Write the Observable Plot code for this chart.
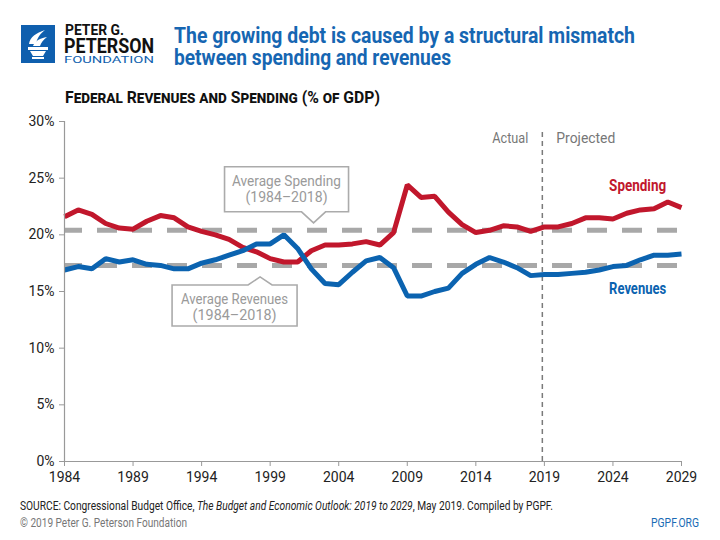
<!DOCTYPE html>
<html>
<head>
<meta charset="utf-8">
<script src="https://cdn.jsdelivr.net/npm/d3@7"></script>
<script src="https://cdn.jsdelivr.net/npm/@observablehq/plot@0.6"></script>
<style>
  html, body { margin: 0; padding: 0; background: #fff; }
  body { width: 720px; height: 540px; position: relative; overflow: hidden; font-family: Roboto, sans-serif; }
  #header { position: absolute; left: 0; top: 0; }
  #chart { position: absolute; left: 0; top: 110px; }
  #footer { position: absolute; left: 0; top: 490px; }
</style>
</head>
<body>
<svg id="header" width="720" height="110" font-family="Roboto, sans-serif">
  <g transform="translate(21,25)">
    <rect x="0" y="0" width="34" height="38" fill="#0f5fae"/>
    <path d="M8 19 C9 12 15 8 24 5 C19 9 16 13 15 19 Z" fill="#fff"/>
    <path d="M12 21 C14 16 19 13 26 12 C22 15 20 18 19 21 Z" fill="#fff"/>
    <rect x="7" y="22" width="20" height="3" fill="#fff"/>
    <path d="M9 26 L25 26 L22 31 L12 31 Z" fill="#fff"/>
    <rect x="11" y="32" width="12" height="2" fill="#fff"/>
  </g>
  <text x="65" y="35" font-size="14" font-weight="bold" fill="#111" textLength="59" lengthAdjust="spacingAndGlyphs">PETER G.</text>
  <text x="64" y="53" font-size="21" font-weight="bold" fill="#111" textLength="90" lengthAdjust="spacingAndGlyphs">PETERSON</text>
  <text x="64" y="63" font-size="8.5" fill="#0f5fae" textLength="90" lengthAdjust="spacingAndGlyphs">FOUNDATION</text>
  <text x="174" y="43" font-size="22" font-weight="bold" fill="#1666b2" textLength="461" lengthAdjust="spacingAndGlyphs">The growing debt is caused by a structural mismatch</text>
  <text x="174" y="65" font-size="22" font-weight="bold" fill="#1666b2" textLength="277" lengthAdjust="spacingAndGlyphs">between spending and revenues</text>
  <text x="65" y="103" font-size="17" font-weight="bold" fill="#111" font-variant="small-caps" textLength="315" lengthAdjust="spacingAndGlyphs">Federal Revenues and Spending (% of GDP)</text>
</svg>
<div id="chart"></div>
<svg id="footer" width="720" height="50" font-family="Roboto, sans-serif">
  <text x="20" y="20" font-size="12" fill="#222" textLength="533" lengthAdjust="spacingAndGlyphs">SOURCE: Congressional Budget Office, <tspan font-style="italic">The Budget and Economic Outlook: 2019 to 2029</tspan>, May 2019. Compiled by PGPF.</text>
  <text x="20" y="37" font-size="12" fill="#777" textLength="167" lengthAdjust="spacingAndGlyphs">© 2019 Peter G. Peterson Foundation</text>
  <text x="651" y="37" font-size="12" fill="#1a6bb5" textLength="48" lengthAdjust="spacingAndGlyphs">PGPF.ORG</text>
</svg>
<script>
// ---- data ----
const years = d3.range(1984, 2030);
const revenues = [16.9,17.2,17.0,17.9,17.6,17.8,17.4,17.3,17.0,17.0,17.5,17.8,18.2,18.6,19.2,19.2,20.0,18.8,17.0,15.7,
                  15.6,16.7,17.7,18.0,17.1,14.6,14.6,15.0,15.3,16.6,17.4,18.0,17.6,17.1,16.4,16.5,16.5,16.6,16.7,16.9,
                  17.2,17.3,17.8,18.2,18.2,18.3];
const spending = [21.6,22.2,21.8,21.0,20.6,20.5,21.2,21.7,21.5,20.7,20.3,20.0,19.6,18.9,18.5,17.9,17.6,17.6,18.6,19.1,
                  19.1,19.2,19.4,19.1,20.2,24.4,23.3,23.4,22.0,20.9,20.2,20.4,20.8,20.7,20.3,20.7,20.7,21.0,21.5,21.5,
                  21.4,21.9,22.2,22.3,22.9,22.4];
const avgSpending = 20.4;
const avgRevenues = 17.3;
const xTicks = [1984,1989,1994,1999,2004,2009,2014,2019,2024,2029];
const yTicks = [0,5,10,15,20,25,30];
const projectionStart = 2018.85;
const seriesNames = ["Spending", "Revenues"];
const seriesLabelYears = [2025.8, 2025.8];
const seriesLabelValues = [24.35, 15.25];
const calloutText = [["Average Spending", "(1984–2018)"], ["Average Revenues", "(1984–2018)"]];
const calloutYears = [2002.2, 1998.3];
const calloutValues = [avgSpending, avgRevenues];

const RED = "#c1172c", BLUE = "#0b63b0", GRID = "#a8a8a8";
const FONT = "Roboto, sans-serif";

const rows = [];
years.forEach((yr, i) => {
  rows.push({year: yr, value: spending[i], series: "Spending"});
  rows.push({year: yr, value: revenues[i], series: "Revenues"});
});
const labels = seriesNames.map((n, i) => ({name: n, year: seriesLabelYears[i], value: seriesLabelValues[i]}));
const callouts = calloutText.map((t, i) => ({lines: t, year: calloutYears[i], value: calloutValues[i], above: i === 0}));

// custom callout box mark, anchored at data coordinates
function calloutMark(data) {
  return (index, scales) => {
    const g = d3.create("svg:g");
    for (const c of data) {
      const px = scales.x(c.year), ly = scales.y(c.value);
      let apex, edge, far, left, right, widths;
      if (c.above) { apex = ly - 7; edge = ly - 18; far = ly - 63; left = px - 89; right = px + 35; widths = [109, 82]; }
      else { apex = ly + 12; edge = ly + 20; far = ly + 61; left = px - 88; right = px + 37; widths = [107, 84]; }
      const hw = 12;
      const d = `M${left},${edge} L${px-hw},${edge} L${px},${apex} L${px+hw},${edge} L${right},${edge} L${right},${far} L${left},${far} Z`;
      g.append("path").attr("d", d).attr("fill", "#fff").attr("stroke", "#ababab").attr("stroke-width", 1.6);
      const top = Math.min(edge, far), cx = (left + right) / 2;
      c.lines.forEach((ln, k) => {
        g.append("text").attr("x", cx).attr("y", top + 19 + k * 16)
          .attr("text-anchor", "middle").attr("font-size", 15).attr("fill", "#9a9a9a")
          .attr("font-family", FONT)
          .attr("textLength", widths[k]).attr("lengthAdjust", "spacingAndGlyphs").text(ln);
      });
    }
    return g.node();
  };
}

const chart = Plot.plot({
  width: 720,
  height: 385,
  marginTop: 11,
  marginBottom: 34,
  marginLeft: 64,
  marginRight: 39,
  style: {fontFamily: FONT, fontSize: "14px", color: "#222", background: "#fff", overflow: "visible"},
  x: {domain: [1984, 2029]},
  y: {domain: [0, 30]},
  marks: [
    Plot.ruleY([avgSpending, avgRevenues], {stroke: GRID, strokeWidth: 5, strokeDasharray: "20,15", strokeDashoffset: 2}),
    Plot.ruleX([projectionStart], {y1: 0, y2: 29.3, stroke: "#7a7a7a", strokeWidth: 1.5, strokeDasharray: "5,4"}),
    Plot.line(rows, {x: "year", y: "value", z: "series", stroke: d => d.series === "Spending" ? RED : BLUE,
                     strokeWidth: 5, strokeLinejoin: "miter", strokeLinecap: "butt"}),
    calloutMark(callouts),
    Plot.text(labels, {x: "year", y: "value", text: "name", fill: d => d.name === "Spending" ? RED : BLUE,
                       fontSize: 16, fontWeight: "bold", className: "fit-series"}),
    Plot.text(["Actual"], {x: projectionStart, y: 28.5, text: d => d, textAnchor: "end", dx: -14, fill: "#777", fontSize: 15, className: "fit-actual"}),
    Plot.text(["Projected"], {x: projectionStart, y: 28.5, text: d => d, textAnchor: "start", dx: 14, fill: "#777", fontSize: 15, className: "fit-proj"}),
    Plot.ruleX([1984], {stroke: "#999", strokeWidth: 1.2}),
    Plot.ruleY([0], {stroke: "#999", strokeWidth: 1.2}),
    Plot.axisY({ticks: yTicks, tickFormat: d => d + "%", tickSize: 5, tickPadding: 5, stroke: "#999", label: null, fill: "#222"}),
    Plot.axisX({ticks: xTicks, tickFormat: d => String(d), tickSize: 5, tickPadding: 6, stroke: "#999", label: null, fill: "#222"})
  ]
});
// narrow the direct labels to the reference's condensed widths
const fitWidths = {"Spending": 57, "Revenues": 57, "Actual": 36, "Projected": 59};
d3.select(chart).selectAll(".fit-series text, .fit-actual text, .fit-proj text").each(function() {
  const w = fitWidths[this.textContent];
  if (w) { this.setAttribute("textLength", w); this.setAttribute("lengthAdjust", "spacingAndGlyphs"); }
});
document.getElementById("chart").appendChild(chart);
</script>
</body>
</html>
